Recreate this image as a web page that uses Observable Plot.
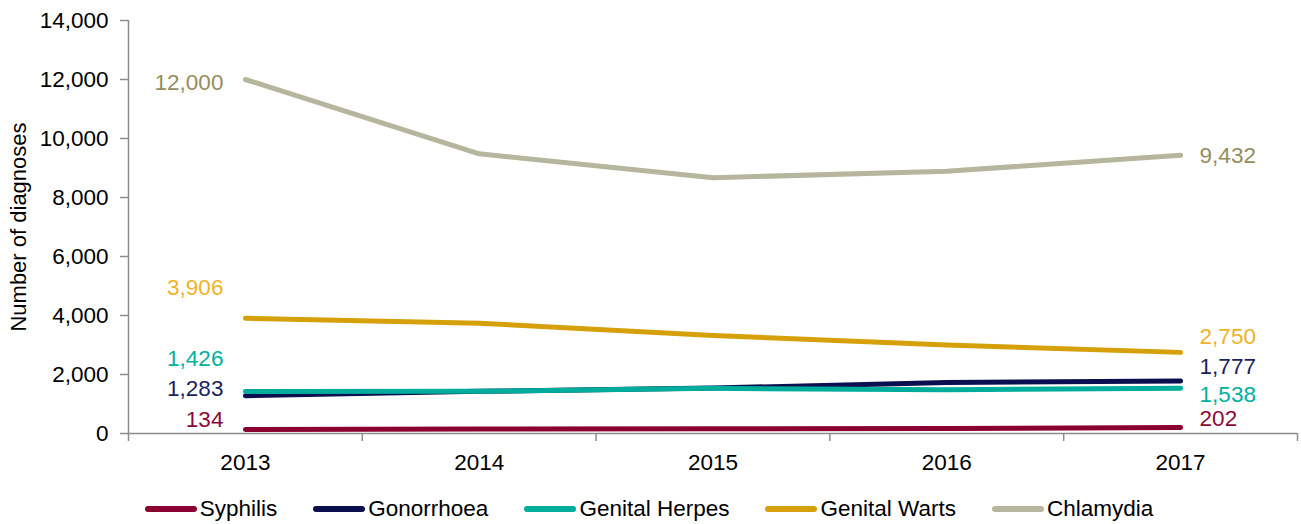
<!DOCTYPE html>
<html>
<head>
<meta charset="utf-8">
<script src="https://cdn.jsdelivr.net/npm/d3@7"></script>
<script src="https://cdn.jsdelivr.net/npm/@observablehq/plot@0.6"></script>
<style>
  body { margin: 0; background: #fff; font-family: "Liberation Sans", Arial, sans-serif; }
  #legend { display: flex; justify-content: center; align-items: center; gap: 36px; margin-top: 6px; font-size: 22.5px; color: #000; padding-right: 3px; }
  .item { display: flex; align-items: center; }
  .sw { width: 52px; height: 6px; border-radius: 3px; margin-right: 3px; }
</style>
</head>
<body>
<div id="chart"></div>
<div id="legend"></div>
<script>
const years = [2013, 2014, 2015, 2016, 2017];
const seriesNames = ["Syphilis", "Gonorrhoea", "Genital Herpes", "Genital Warts", "Chlamydia"];
const syphilis   = [134, 150, 160, 170, 202];
const gonorrhoea = [1283, 1430, 1540, 1730, 1777];
const herpes     = [1426, 1430, 1530, 1480, 1538];
const warts      = [3906, 3740, 3320, 3000, 2750];
const chlamydia  = [12000, 9480, 8670, 8890, 9432];
const yTicks = [0, 2000, 4000, 6000, 8000, 10000, 12000, 14000];

const lineColors  = ["#8a0030", "#0b0f50", "#00ac9b", "#d6a00b", "#b6b59d"];
const labelColors = ["#8c0a36", "#1b1f5f", "#00b0a0", "#f0b323", "#958d5c"];
// label vertical offsets (px): [left, right]
const labelDy = [[-10, -9], [-7, -14], [-33, 7], [-30, -16], [3, 1]];

const valuesBySeries = [syphilis, gonorrhoea, herpes, warts, chlamydia];
const rows = [];
seriesNames.forEach((s, i) => years.forEach((y, j) => rows.push({series: s, year: y, value: valuesBySeries[i][j]})));

const boundaries = [2012.5, 2013.5, 2014.5, 2015.5, 2016.5, 2017.5];
const fmt = d3.format(",");
const FS = 22.5;

const labelMarks = [];
seriesNames.forEach((s, i) => {
  const first = rows.filter(r => r.series === s && r.year === years[0]);
  const last = rows.filter(r => r.series === s && r.year === years[years.length - 1]);
  labelMarks.push(Plot.text(first, {x: "year", y: "value", text: d => fmt(d.value), textAnchor: "end", dx: -22, dy: labelDy[i][0], fill: labelColors[i], fontSize: FS}));
  labelMarks.push(Plot.text(last, {x: "year", y: "value", text: d => fmt(d.value), textAnchor: "start", dx: 19, dy: labelDy[i][1], fill: labelColors[i], fontSize: FS}));
});

const chart = Plot.plot({
  width: 1301,
  height: 490,
  marginLeft: 128,
  marginRight: 4,
  marginTop: 20,
  marginBottom: 57,
  style: {fontFamily: "'Liberation Sans', Arial, sans-serif", fontSize: FS + "px", color: "#000", background: "#fff"},
  x: {domain: [2012.5, 2017.5]},
  y: {domain: [0, 14000]},
  color: {domain: seriesNames, range: lineColors},
  marks: [
    Plot.ruleX([2012.5], {stroke: "#8c8c8c", strokeWidth: 1.5}),
    Plot.ruleY([0], {stroke: "#8c8c8c", strokeWidth: 1.5}),
    Plot.axisY({ticks: yTicks, tickSize: 8, tickPadding: 12, tickFormat: fmt, label: null, stroke: "#8c8c8c", fill: "#000", strokeWidth: 1.5, fontSize: FS}),
    Plot.axisX({ticks: boundaries, tickSize: 8, tickFormat: () => "", label: null, stroke: "#8c8c8c", strokeWidth: 1.5}),
    Plot.axisX({ticks: years, tickSize: 0, tickPadding: 21, tickFormat: d => String(d), label: null, fill: "#000", fontSize: FS}),
    Plot.text(["Number of diagnoses"], {frameAnchor: "left", textAnchor: "middle", dx: -110, rotate: -90, text: d => d, fontSize: 22, fill: "#000"}),
    Plot.line(rows, {x: "year", y: "value", z: "series", stroke: "series", strokeWidth: 5, strokeLinecap: "round", strokeLinejoin: "round"}),
    ...labelMarks
  ]
});
document.getElementById("chart").appendChild(chart);

const legend = document.getElementById("legend");
seriesNames.forEach((s, i) => {
  const item = document.createElement("div");
  item.className = "item";
  const sw = document.createElement("div");
  sw.className = "sw";
  sw.style.background = lineColors[i];
  const t = document.createElement("span");
  t.textContent = s;
  item.appendChild(sw);
  item.appendChild(t);
  legend.appendChild(item);
});
</script>
</body>
</html>
